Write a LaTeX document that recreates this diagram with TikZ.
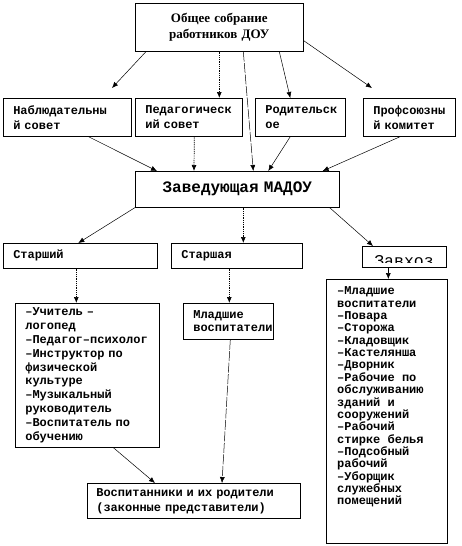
\documentclass[tikz,border=0pt]{standalone}
\usepackage{fontspec}
\newfontfamily\monof{Liberation Mono}
\newfontfamily\seriff{Liberation Serif}
\usetikzlibrary{arrows.meta,calc}
\begin{document}
\begin{tikzpicture}[x=1pt,y=-1pt,
  bx/.style={draw=black, line width=0.6pt, anchor=north west, inner ysep=0pt, align=left,
    font=\monof\bfseries\fontsize{12}{15}\selectfont},
  ar/.style={-{Latex[length=6pt,width=5pt]}, line width=0.5pt},
  dar/.style={ar, line width=0.7pt, dash pattern=on 1pt off 0.8pt},
  ddar/.style={ar, dash pattern=on 10pt off 1.5pt}]
\fill[white] (0,0) rectangle (462,546);
\useasboundingbox (0,0) rectangle (462,546);

% boxes
\node[bx, minimum height=48pt, text width=168pt, inner xsep=0pt, align=center,
  font=\seriff\bfseries\fontsize{13}{16}\selectfont] (top) at (135,3) {Общее собрание\\работников ДОУ};

\node[bx, minimum height=38pt, text width=108pt, inner xsep=10pt] (b1) at (3,98) {Наблюдательны\\й совет};
\node[bx, minimum height=38pt, text width=87pt, inner xsep=10pt] (b2) at (135,98) {Педагогическ\\ий совет};
\node[bx, minimum height=38pt, text width=70pt, inner xsep=10pt] (b3) at (255,98) {Родительск\\ое};
\node[bx, minimum height=38pt, text width=72pt, inner xsep=10pt] (b4) at (363,98) {Профсоюзны\\й комитет};

\node[bx, minimum height=36pt, text width=204pt, inner xsep=0pt, align=center,
  font=\monof\bfseries\fontsize{16}{18}\selectfont] (zav) at (135,171) {Заведующая МАДОУ};

\node[bx, minimum height=25pt, text width=134pt, inner xsep=10pt] (s1) at (3,243) {Старший};
\node[bx, minimum height=25pt, text width=111pt, inner xsep=10pt] (s2) at (171,243) {Старшая};
\node[bx, minimum height=21pt, minimum width=84pt, inner xsep=0pt] (zb) at (362,246) {};
\begin{scope}
  \clip (362,246) rectangle (446,262);
  \node[anchor=base, inner sep=0pt, font=\monof\fontsize{16.5}{18}\selectfont] (zbt) at (404,266) {Завхоз};
\end{scope}

\node[bx, minimum height=144pt, text width=124pt, inner xsep=10pt,
  font=\monof\bfseries\fontsize{12}{13.8}\selectfont] (l1) at (15,303)
  {–Учитель –\\логопед\\–Педагог–психолог\\–Инструктор по\\физической\\культуре\\–Музыкальный\\руководитель\\–Воспитатель по\\обучению};

\node[bx, minimum height=36pt, text width=70pt, inner xsep=10pt,
  font=\monof\bfseries\fontsize{12}{13.5}\selectfont] (ml) at (183,303) {Младшие\\воспитатели};

\node[bx, minimum height=264pt, minimum width=121pt, inner xsep=0pt] (l2) at (326,279) {};
\node[anchor=north west, inner sep=0pt, align=left,
  font=\monof\bfseries\fontsize{12}{12.35}\selectfont] (l2t) at (337,286)
  {\strut–Младшие\\воспитатели\\–Повара\\–Сторожа\\–Кладовщик\\–Кастелянша\\–Дворник\\–Рабочие по\\обслуживанию\\зданий и\\сооружений\\–Рабочий\\стирке белья\\–Подсобный\\рабочий\\–Уборщик\\служебных\\помещений};

\node[bx, minimum height=35pt, text width=195pt, inner xsep=9pt] (vos) at (87,483)
  {Воспитанники и их родители\\(законные представители)};

% free ends
\coordinate (c1) at (112,88);
\coordinate (c5) at (372,88);

% arrows from top
\draw[ar] ($(top.south west)+(11,0)$) -- (c1);
\draw[dar] (top.south) -- ($(b2.north)+(30.5,0)$);
\draw[ddar] ($(top.south)+(24,0)$) -- ($(zav.north)+(16,0)$);
\draw[ar] ($(top.south)+(60,0)$) -- ($(b3.north)+(-10,0)$);
\draw[ar] ($(top.south east)+(0,-11)$) -- (c5);

% row 2 to zav
\draw[ar] ($(b1.south)+(21,0)$) -- ($(zav.north west)+(22,0)$);
\draw[dar] ($(b2.south)+(5.5,0)$) -- ($(zav.north west)+(59,0)$);
\draw[ar] ($(b3.south)+(-10,0)$) -- ($(zav.north)+(31,0)$);
\draw[ar] ($(b4.south)+(-9,0)$) -- ($(zav.north east)+(-17,0)$);

% zav to row 3
\draw[ar] (zav.south west) -- ($(s1.north)+(-2,0)$);
\draw[dar] ($(zav.south)+(6,0)$) -- ($(s2.north)+(6.5,0)$);
\draw[ar] ($(zav.south east)+(-10,0)$) -- ($(zb.north west)+(11,0)$);

% row 3 to row 4
\draw[dar] ($(s1.south)+(-4,0)$) -- ($(l1.north)+(-11,0)$);
\draw[dar] ($(s2.south)+(-7.5,0)$) -- ($(ml.north)+(1,0)$);
\draw[ar] ($(zb.south)+(-16,0)$) -- ($(l2.north)+(1.5,0)$);

% to bottom
\draw[ar] ($(l1.south)+(26,0)$) -- ($(vos.north west)+(68,0)$);
\draw[ddar] ($(ml.south)+(2,0)$) -- ($(vos.north west)+(135,0)$);
\end{tikzpicture}
\end{document}
